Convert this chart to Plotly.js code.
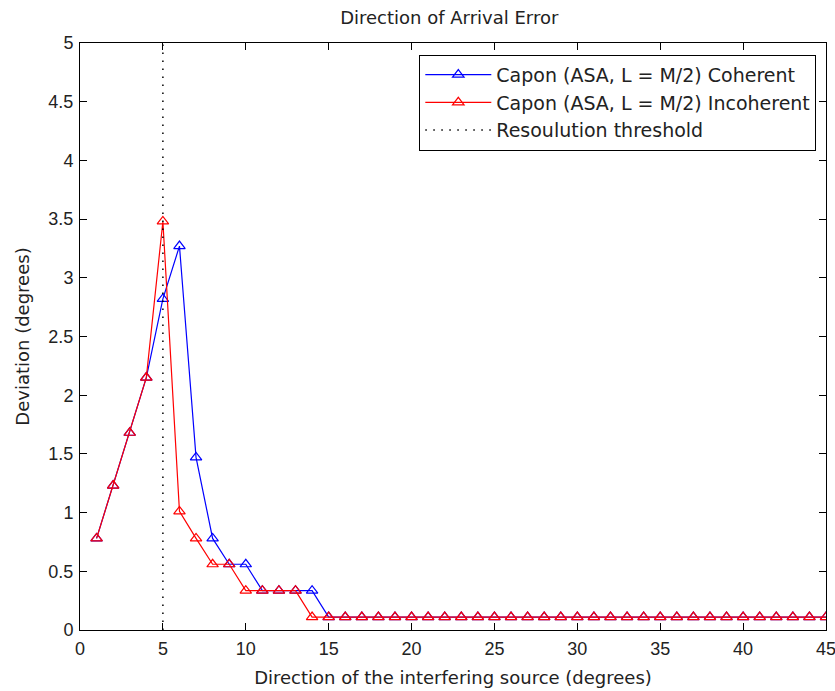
<!DOCTYPE html>
<html>
<head>
<script src="https://cdn.plot.ly/plotly-3.0.1.min.js"></script>
<style>body{margin:0;background:#fff}#chart{width:835px;height:691px}</style>
</head>
<body>
<div id="chart"></div>
<script>
const xDir = [1,2,3,4,5,6,7,8,9,10,11,12,13,14,15,16,17,18,19,20,21,22,23,24,25,26,27,28,29,30,31,32,33,34,35,36,37,38,39,40,41,42,43,44,45];
const coherent = [0.78,1.23,1.68,2.15,2.82,3.27,1.47,0.78,0.56,0.56,0.335,0.335,0.335,0.335,0.11,0.11,0.11,0.11,0.11,0.11,0.11,0.11,0.11,0.11,0.11,0.11,0.11,0.11,0.11,0.11,0.11,0.11,0.11,0.11,0.11,0.11,0.11,0.11,0.11,0.11,0.11,0.11,0.11,0.11,0.11];
const incoherent = [0.78,1.23,1.68,2.15,3.48,1.01,0.78,0.56,0.56,0.335,0.335,0.335,0.335,0.11,0.11,0.11,0.11,0.11,0.11,0.11,0.11,0.11,0.11,0.11,0.11,0.11,0.11,0.11,0.11,0.11,0.11,0.11,0.11,0.11,0.11,0.11,0.11,0.11,0.11,0.11,0.11,0.11,0.11,0.11,0.11];
const thresholdX = [5,5];
const thresholdY = [0,5];
const xTicks = [0,5,10,15,20,25,30,35,40,45];
const yTicks = [0,0.5,1,1.5,2,2.5,3,3.5,4,4.5,5];
const yTickText = ['0','0.5','1','1.5','2','2.5','3','3.5','4','4.5','5'];

const textFont = 'DejaVu Sans, Verdana, sans-serif';
const tickFont = 'Liberation Sans, Arial, sans-serif';

const traces = [
  {x: xDir, y: coherent, name: 'Capon (ASA, L = M/2) Coherent', mode: 'lines+markers',
   line: {color: '#0000ff', width: 1.2}, marker: {symbol: 'triangle-up-open', size: 10, color: '#0000ff', line: {width: 1.2}}},
  {x: xDir, y: incoherent, name: 'Capon (ASA, L = M/2) Incoherent', mode: 'lines+markers',
   line: {color: '#ff0000', width: 1.2}, marker: {symbol: 'triangle-up-open', size: 10, color: '#ff0000', line: {width: 1.2}}},
  {x: thresholdX, y: thresholdY, name: 'Resoulution threshold', mode: 'lines',
   line: {color: '#000000', width: 1.5, dash: '1.5px,6.5px'}}
];

const axisCommon = {showgrid: false, zeroline: false, showline: true, linecolor: '#000', linewidth: 1,
  mirror: 'ticks', ticks: 'inside', ticklen: 7, tickcolor: '#000', ticklabelstandoff: 2,
  ticklabeloverflow: 'allow',
  tickfont: {family: tickFont, size: 18, color: '#222'}};

const layout = {
  width: 835, height: 691,
  margin: {l: 80, r: 9, t: 43, b: 61},
  paper_bgcolor: '#fff', plot_bgcolor: '#fff',
  font: {family: textFont, size: 18, color: '#222'},
  title: {text: 'Direction of Arrival Error', font: {family: textFont, size: 18, color: '#222'},
    xref: 'paper', x: 0.495, xanchor: 'center', y: 0.975, yanchor: 'middle'},
  xaxis: Object.assign({}, axisCommon, {range: [0, 45], tickvals: xTicks,
    title: {text: 'Direction of the interfering source (degrees)', font: {family: textFont, size: 18, color: '#222'}, standoff: 13}}),
  yaxis: Object.assign({}, axisCommon, {range: [0, 5], tickvals: yTicks, ticktext: yTickText,
    title: {text: 'Deviation (degrees)', font: {family: textFont, size: 18, color: '#222'}, standoff: 14}}),
  showlegend: true,
  legend: {x: 0.987, xanchor: 'right', y: 0.98, yanchor: 'top', bgcolor: '#fff', bordercolor: '#000', borderwidth: 1,
    font: {family: textFont, size: 19, color: '#222'}, tracegroupgap: 0, itemwidth: 66}
};

Plotly.newPlot('chart', traces, layout, {displayModeBar: false});
</script>
</body>
</html>
